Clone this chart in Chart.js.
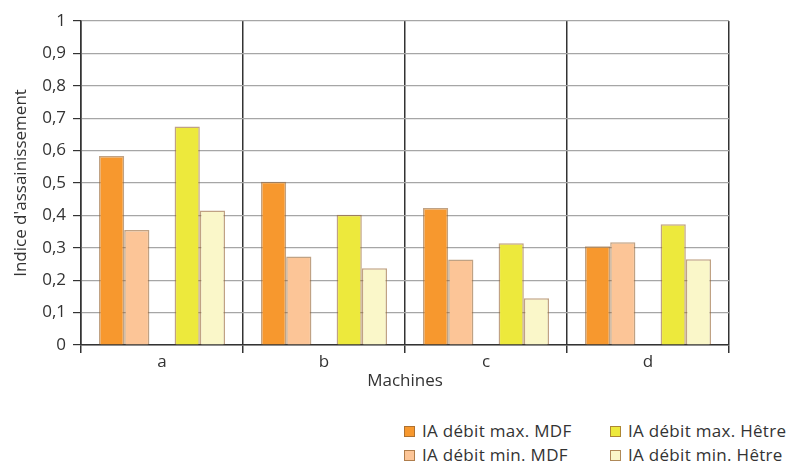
<!DOCTYPE html>
<html>
<head>
<meta charset="utf-8">
<script src="https://cdn.jsdelivr.net/npm/chart.js@4/dist/chart.umd.min.js"></script>
<style>
    html, body { margin: 0; padding: 0; background: #fff; }
    #wrap { position: relative; width: 797px; height: 464px; font-family: "Open Sans", sans-serif; color: #333; }
    #box { position: absolute; left: 0; top: 0; width: 797px; height: 394px; }
    #legend { position: absolute; left: 404px; top: 420px; display: grid; grid-template-columns: 206px 190px; row-gap: 4px; font-size: 17px; letter-spacing: 0.3px; }
    .item { display: flex; align-items: center; height: 20px; white-space: nowrap; }
    .sw { width: 11px; height: 11px; margin-right: 7px; box-sizing: border-box; border: 1.5px solid rgba(150, 100, 50, 0.75); margin-top: 3px; }
</style>
</head>
<body>
<div id="wrap">
    <div id="box"><canvas id="chart"></canvas></div>
    <div id="legend"></div>
</div>
<script>
const machines = ['a', 'b', 'c', 'd'];
const seriesLabels = ['IA débit max. MDF', 'IA débit min. MDF', 'IA débit max. Hêtre', 'IA débit min. Hêtre'];
const maxMDF = [0.583, 0.504, 0.423, 0.305];
const minMDF = [0.355, 0.273, 0.264, 0.317];
const maxHetre = [0.674, 0.402, 0.314, 0.373];
const minHetre = [0.415, 0.237, 0.144, 0.265];
const yTickLabels = ['0', '0,1', '0,2', '0,3', '0,4', '0,5', '0,6', '0,7', '0,8', '0,9', '1'];

const fills = ['#f7982e', '#fcc597', '#ede93c', '#faf7c9'];
const edge = 'rgba(150, 100, 50, 0.6)';
const dark = '#333';
const font = { family: 'Open Sans', size: 17 };

function bar(label, data, color) {
    return { label: label, data: data, backgroundColor: color, borderColor: edge, borderWidth: 1.5 };
}

// empty middle series leaves the gap between MDF and Hêtre bars
const spacer = { label: '', data: machines.map(() => null) };

new Chart(document.getElementById('chart'), {
    type: 'bar',
    data: {
        labels: machines,
        datasets: [
            bar(seriesLabels[0], maxMDF, fills[0]),
            bar(seriesLabels[1], minMDF, fills[1]),
            spacer,
            bar(seriesLabels[2], maxHetre, fills[2]),
            bar(seriesLabels[3], minHetre, fills[3])
        ]
    },
    options: {
        responsive: true,
        maintainAspectRatio: false,
        animation: false,
        datasets: { bar: { categoryPercentage: 0.778, barPercentage: 1 } },
        layout: { padding: { top: 21, right: 68, bottom: 0, left: 0 } },
        plugins: { legend: { display: false }, tooltip: { enabled: false } },
        scales: {
            x: {
                grid: { color: dark, lineWidth: 1.5, tickLength: 8, offset: true },
                border: { color: dark, width: 1.5 },
                ticks: { color: dark, font: font, padding: -1 },
                title: { display: true, text: 'Machines', color: dark, font: font, padding: { top: 0, bottom: 3 } },
                afterFit: s => { s.height = 49; }
            },
            y: {
                min: 0,
                max: 1,
                grid: { color: '#a6a6a6', lineWidth: 1.2, tickColor: dark, tickLength: 8 },
                border: { color: dark, width: 1.5 },
                ticks: {
                    stepSize: 0.1,
                    color: dark,
                    font: font,
                    padding: 7,
                    callback: (v, i) => yTickLabels[i]
                },
                title: { display: true, text: "Indice d'assainissement", color: dark, font: font, padding: { top: 11, bottom: 0 } },
                afterFit: s => { s.width = 81; }
            }
        }
    }
});

const legend = document.getElementById('legend');
// column order: max row first, then min row
[0, 2, 1, 3].forEach(i => {
    const item = document.createElement('div');
    item.className = 'item';
    item.innerHTML = `<span class="sw" style="background:${fills[i]}"></span><span>${seriesLabels[i]}</span>`;
    legend.appendChild(item);
});
</script>
</body>
</html>
